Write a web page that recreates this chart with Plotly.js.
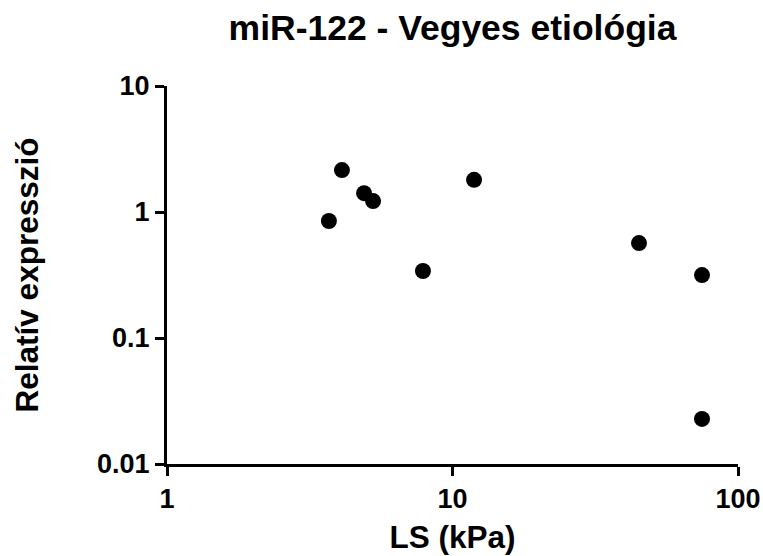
<!DOCTYPE html>
<html>
<head>
<meta charset="utf-8">
<script src="https://cdn.plot.ly/plotly-3.0.1.min.js"></script>
<style>html,body{margin:0;padding:0;background:#fff}#chart{width:763px;height:556px}</style>
</head>
<body>
<div id="chart"></div>
<script>
const lsKPa = [3.69, 4.10, 4.90, 5.27, 7.88, 11.9, 45.0, 74.8, 74.8];
const relExpr = [0.848, 2.15, 1.41, 1.22, 0.340, 1.80, 0.567, 0.316, 0.0228];
const xTickVals = [1, 10, 100];
const xTickText = ['1', '10', '100'];
const yTickVals = [0.01, 0.1, 1, 10];
const yTickText = ['0.01', '0.1', '1', '10'];

const font = 'Liberation Sans, Arial, sans-serif';
const trace = {
  x: lsKPa, y: relExpr, type: 'scatter', mode: 'markers',
  marker: {color: '#000', size: 16, line: {width: 0}},
  cliponaxis: false, hoverinfo: 'skip'
};
const layout = {
  width: 763, height: 556,
  margin: {l: 167, r: 25, t: 86, b: 92},
  paper_bgcolor: '#fff', plot_bgcolor: '#fff',
  showlegend: false,
  title: {text: '<b>miR-122 - Vegyes etiológia</b>', font: {family: font, size: 35.5, color: '#000'},
          x: 0.5, xanchor: 'center', y: 0.95, yanchor: 'middle', xref: 'paper'},
  xaxis: {
    type: 'log', range: [0, 2], tickvals: xTickVals, ticktext: xTickText,
    showgrid: false, zeroline: false, showline: true, linecolor: '#000', linewidth: 3,
    ticks: 'outside', ticklen: 9, tickwidth: 3, tickcolor: '#000',
    tickfont: {family: font, size: 27, color: '#000', weight: 'bold'},
    title: {text: '<b>LS (kPa)</b>', font: {family: font, size: 31.5, color: '#000'}, standoff: 13}
  },
  yaxis: {
    type: 'log', range: [-2, 1], tickvals: yTickVals, ticktext: yTickText,
    showgrid: false, zeroline: false, showline: true, linecolor: '#000', linewidth: 3,
    ticks: 'outside', ticklen: 9, tickwidth: 3, tickcolor: '#000',
    tickfont: {family: font, size: 27, color: '#000', weight: 'bold'},
    title: {text: '<b>Relatív expresszió</b>', font: {family: font, size: 31.5, color: '#000'}, standoff: 50}
  }
};
Plotly.newPlot('chart', [trace], layout, {staticPlot: true, displayModeBar: false});
</script>
</body>
</html>
